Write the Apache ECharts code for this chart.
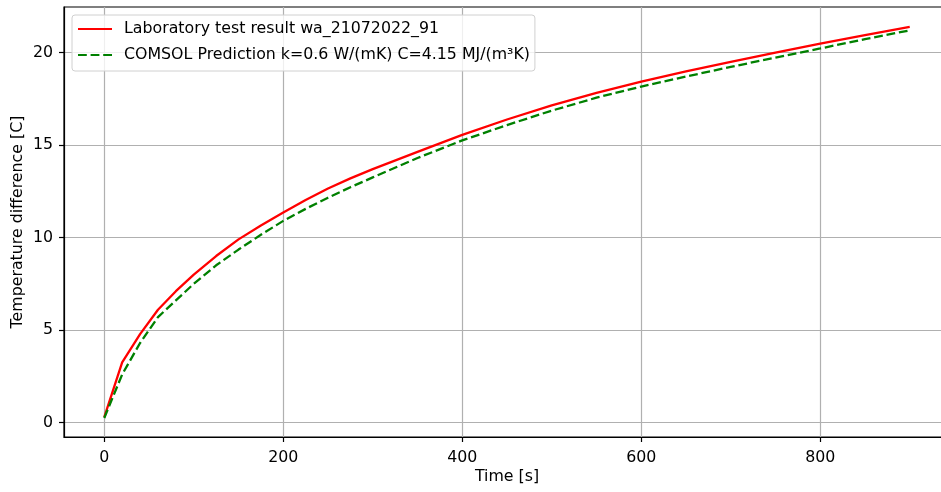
<!DOCTYPE html>
<html>
<head>
<meta charset="utf-8">
<script src="https://cdn.jsdelivr.net/npm/echarts@6/dist/echarts.min.js"></script>
<style>html,body{margin:0;padding:0;background:#fff}#c{width:941px;height:492px}</style>
</head>
<body>
<div id="c"></div>
<script>
const seriesNames = ['Laboratory test result wa_21072022_91', 'COMSOL Prediction k=0.6 W/(mK) C=4.15 MJ/(m³K)'];
const times = [0, 20, 40, 60, 80, 100, 125, 150, 175, 200, 225, 250, 275, 300, 350, 400, 450, 500, 550, 600, 650, 700, 750, 800, 850, 900];
const labValues = [0.3, 3.25, 4.78, 6.1, 7.1, 8.0, 9.0, 9.9, 10.65, 11.35, 12.03, 12.65, 13.2, 13.7, 14.63, 15.55, 16.38, 17.14, 17.82, 18.43, 18.98, 19.5, 20.0, 20.48, 20.94, 21.38];
const comsolValues = [0.25, 2.6, 4.3, 5.7, 6.6, 7.5, 8.5, 9.35, 10.15, 10.9, 11.55, 12.15, 12.72, 13.25, 14.3, 15.25, 16.08, 16.86, 17.56, 18.16, 18.7, 19.22, 19.73, 20.22, 20.72, 21.2];
const xTicks = [0, 200, 400, 600, 800];
const yTicks = [0, 5, 10, 15, 20];

const font = 'DejaVu Sans';
const fs = 15.8;
const chart = echarts.init(document.getElementById('c'), null, {renderer: 'canvas'});
chart.setOption({
  animation: false,
  backgroundColor: '#fff',
  grid: {left: 64, top: 7, right: -9, bottom: 55, containLabel: false, outerBoundsMode: 'none', show: true, borderColor: '#000', borderWidth: 1.2, backgroundColor: 'transparent'},
  legend: {
    orient: 'vertical', left: 72, top: 15,
    padding: [6, 5, 8, 5], itemGap: 10, itemWidth: 34, itemHeight: 16,
    backgroundColor: 'rgba(255,255,255,0.8)', borderColor: '#d0d0d0', borderWidth: 1, borderRadius: 3,
    itemStyle: {color: 'rgba(0,0,0,0)', borderColor: 'rgba(0,0,0,0)', borderWidth: 0, opacity: 0},
    textStyle: {fontFamily: font, fontSize: fs, color: '#000', padding: [0, 0, 0, 7]},
    data: seriesNames
  },
  xAxis: {
    type: 'value', min: -45, max: 945, splitNumber: 5,
    name: 'Time [s]', nameLocation: 'middle', nameGap: 32, nameMoveOverlap: false,
    nameTextStyle: {fontFamily: font, fontSize: fs, color: '#000'},
    axisLine: {show: true, onZero: false, lineStyle: {color: '#000', width: 1.2}},
    axisTick: {show: true, length: 5, customValues: xTicks, lineStyle: {color: '#000', width: 1.2}},
    axisLabel: {fontFamily: font, fontSize: fs, color: '#000', margin: 13, customValues: xTicks},
    splitLine: {show: true, lineStyle: {color: '#b0b0b0', width: 1.2}}
  },
  yAxis: {
    type: 'value', min: -0.78, max: 22.46, splitNumber: 5,
    name: 'Temperature difference [C]', nameLocation: 'middle', nameGap: 38, nameRotate: 90, nameMoveOverlap: false,
    nameTextStyle: {fontFamily: font, fontSize: fs, color: '#000'},
    axisLine: {show: true, onZero: false, lineStyle: {color: '#000', width: 1.2}},
    axisTick: {show: true, length: 5, customValues: yTicks, lineStyle: {color: '#000', width: 1.2}},
    axisLabel: {fontFamily: font, fontSize: fs, color: '#000', margin: 11, customValues: yTicks},
    splitLine: {show: true, lineStyle: {color: '#b0b0b0', width: 1.2}}
  },
  series: [
    {
      name: seriesNames[0], type: 'line', showSymbol: false, symbol: 'none', smooth: false,
      data: times.map((t, i) => [t, labValues[i]]),
      lineStyle: {color: '#ff0000', width: 2.3}, itemStyle: {color: '#ff0000'}
    },
    {
      name: seriesNames[1], type: 'line', showSymbol: false, symbol: 'none', smooth: false,
      data: times.map((t, i) => [t, comsolValues[i]]),
      lineStyle: {color: '#008000', width: 2.3, type: [8.8, 3.8]}, itemStyle: {color: '#008000'}
    }
  ]
});
</script>
</body>
</html>
